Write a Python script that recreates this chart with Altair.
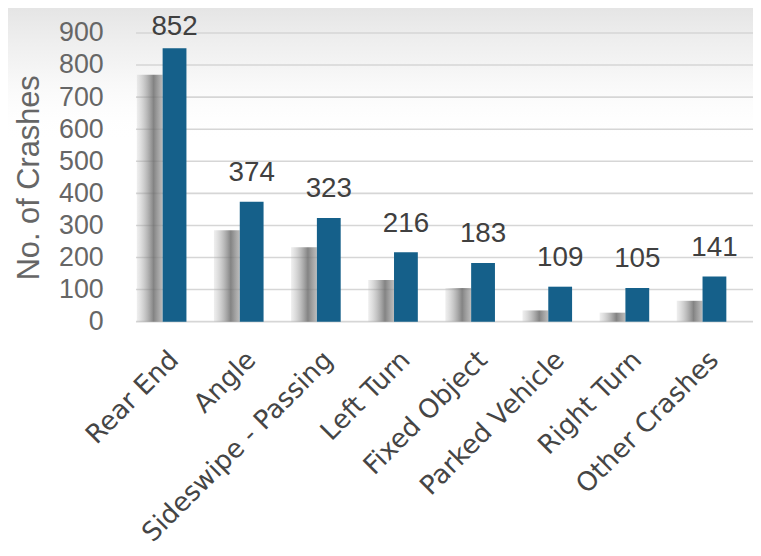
import altair as alt
import pandas as pd

categories = ["Rear End", "Angle", "Sideswipe - Passing", "Left Turn",
              "Fixed Object", "Parked Vehicle", "Right Turn", "Other Crashes"]
crashes = [852, 374, 323, 216, 183, 109, 105, 141]
# heights of the grey "shadow" bars drawn to the left of each bar
shadow = [770, 285, 232, 130, 105, 35, 28, 65]
y_ticks = [0, 100, 200, 300, 400, 500, 600, 700, 800, 900]

df = pd.DataFrame({"cat": categories, "n": crashes, "shadow": shadow})
grid_df = pd.DataFrame({"t": y_ticks})
bg = pd.DataFrame({"k": [0]})

W, H = 622, 291

xaxis = alt.Axis(labelAngle=315, labelFont="DejaVu Sans", labelFontSize=26.5,
                 labelColor="#454545", domain=False, ticks=False, grid=False,
                 labelPadding=34, labelAlign="right", labelBaseline="middle",
                 labelLimit=0, labelOverlap=False, zindex=1)
xscale = alt.Scale(paddingInner=0, paddingOuter=0)
yscale = alt.Scale(domain=[0, 900], nice=False)
yaxis = alt.Axis(values=y_ticks, labelFont="Liberation Sans", labelFontSize=27,
                 labelColor="#666666", domain=False, ticks=False, labelPadding=33,
                 labelOverlap=False, grid=False, zindex=1,
                 titleFont="Liberation Sans", titleFontSize=31,
                 titleFontWeight="normal", titleColor="#666666", titlePadding=13)


def X():
    return alt.X("cat:N", sort=categories, title=None, scale=xscale, axis=xaxis)


def Y(field):
    return alt.Y(field, scale=yscale, title="No. of Crashes", axis=yaxis)


background = alt.Chart(bg).mark_rect(
    fill=alt.Gradient(gradient="linear", x1=0, x2=0, y1=0, y2=1,
                      stops=[alt.GradientStop(color="rgba(212,212,212,0.65)", offset=0),
                             alt.GradientStop(color="rgba(230,230,230,0.45)", offset=0.45),
                             alt.GradientStop(color="rgba(255,255,255,0)", offset=1)])
).encode(x=alt.value(-137), x2=alt.value(W + 5), y=alt.value(-31), y2=alt.value(110))

gridlines = alt.Chart(grid_df).mark_rule(color="#d6d6d6", strokeWidth=1.6).encode(y=Y("t:Q"))

shadows = alt.Chart(df).mark_bar(
    size=26, xOffset=-25,
    fill=alt.Gradient(gradient="linear", x1=0, x2=1, y1=0, y2=0,
                      stops=[alt.GradientStop(color="rgba(190,190,190,0.25)", offset=0),
                             alt.GradientStop(color="rgba(110,110,110,0.85)", offset=0.65),
                             alt.GradientStop(color="rgba(160,160,160,0.7)", offset=1)])
).encode(x=X(), y=Y("shadow:Q"))

bars = alt.Chart(df).mark_bar(size=24, color="#15608a").encode(x=X(), y=Y("n:Q"))

labels = alt.Chart(df).transform_calculate(
    label_y="min(datum.n, 830)"
).mark_text(
    baseline="alphabetic", dy=-21, font="Liberation Sans", fontSize=28, color="#404040"
).encode(x=X(), y=Y("label_y:Q"), text="n:Q")

chart = alt.layer(background, gridlines, shadows, bars, labels).properties(
    width=W, height=H,
    autosize=alt.AutoSizeParams(type="none"),
    padding={"left": 129, "top": 23, "right": 0, "bottom": 226},
    background="white",
).configure_view(stroke=None)

chart.save("out.html", embed_options={"renderer": "svg", "actions": False})
